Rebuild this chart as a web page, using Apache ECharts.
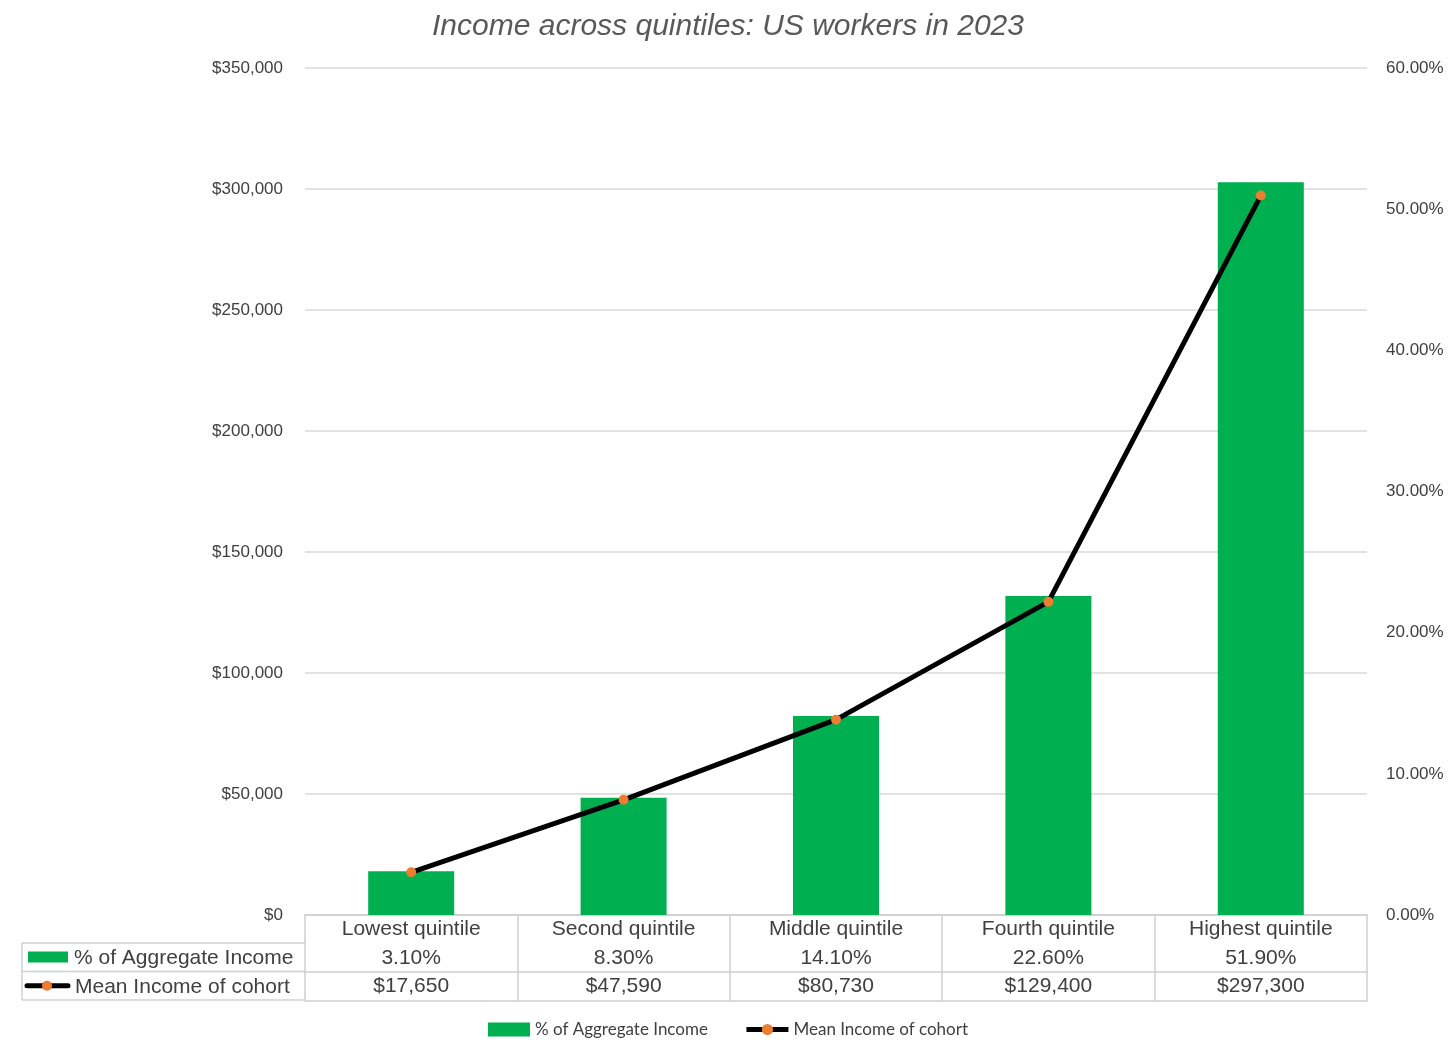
<!DOCTYPE html>
<html>
<head>
<meta charset="utf-8">
<title>Income across quintiles</title>
<script src="https://cdn.jsdelivr.net/npm/echarts@6/dist/echarts.min.js"></script>
<style>
  html, body { margin: 0; padding: 0; background: #fff; }
  #chart { width: 1456px; height: 1056px; }
</style>
</head>
<body>
<div id="chart"></div>
<script>
// data
var categories = ['Lowest quintile', 'Second quintile', 'Middle quintile', 'Fourth quintile', 'Highest quintile'];
var shareNames = '% of Aggregate Income';
var meanName = 'Mean Income of cohort';
var shareValues = [3.1, 8.3, 14.1, 22.6, 51.9];
var meanValues = [17650, 47590, 80730, 129400, 297300];

var FONT = '"Liberation Sans", Arial, sans-serif';
var TXT = '#404040';
var LINE = '#d0d0d0';
var GREEN = '#00B050';
var ORANGE = '#ED7D31';

function dollars(v) { return '$' + v.toLocaleString('en-US'); }
function pct(v) { return v.toFixed(2) + '%'; }

var chart = echarts.init(document.getElementById('chart'));

// left part of the data table (row headers)
var L = 22, R = 305, rowTop = 943, rowH = 28.5;
var graphics = [
  {type: 'line', shape: {x1: L, y1: rowTop, x2: R, y2: rowTop}, style: {stroke: LINE, lineWidth: 1.5}},
  {type: 'line', shape: {x1: L, y1: rowTop + rowH, x2: R, y2: rowTop + rowH}, style: {stroke: LINE, lineWidth: 1.5}},
  {type: 'line', shape: {x1: L, y1: rowTop + 2 * rowH, x2: R, y2: rowTop + 2 * rowH}, style: {stroke: LINE, lineWidth: 1.5}},
  {type: 'line', shape: {x1: L, y1: rowTop, x2: L, y2: rowTop + 2 * rowH}, style: {stroke: LINE, lineWidth: 1.5}},
  {type: 'rect', shape: {x: 28, y: rowTop + 8.5, width: 40, height: 11}, style: {fill: GREEN}},
  {type: 'text', x: 74, y: rowTop + rowH / 2 + 1, style: {text: shareNames, font: '21px ' + FONT, fill: TXT, verticalAlign: 'middle'}},
  {type: 'line', shape: {x1: 27, y1: rowTop + rowH * 1.5, x2: 68, y2: rowTop + rowH * 1.5}, style: {stroke: '#000', lineWidth: 5, lineCap: 'round'}},
  {type: 'circle', shape: {cx: 47, cy: rowTop + rowH * 1.5, r: 5}, style: {fill: ORANGE}},
  {type: 'text', x: 75, y: rowTop + rowH * 1.5 + 1, style: {text: meanName, font: '21px ' + FONT, fill: TXT, verticalAlign: 'middle'}}
];

function tableAxis(data, offset, showLabels) {
  return {
    type: 'category',
    gridIndex: 0,
    position: 'bottom',
    offset: offset,
    data: data,
    axisLine: {show: true, lineStyle: {color: LINE, width: 1.5}},
    axisTick: {show: false},
    axisLabel: {show: showLabels, interval: 0, margin: 4, fontSize: 21, fontFamily: FONT, color: TXT}
  };
}

var option = {
  backgroundColor: '#fff',
  animation: false,
  title: {
    text: 'Income across quintiles: US workers in 2023',
    left: 'center',
    top: 7,
    textStyle: {fontSize: 30, fontStyle: 'italic', fontWeight: 'normal', fontFamily: FONT, color: '#595959'}
  },
  legend: {
    bottom: 13,
    left: 'center',
    itemGap: 36,
    itemWidth: 42,
    itemHeight: 14,
    textStyle: {fontSize: 17, fontFamily: 'Lato, sans-serif', color: TXT},
    data: [
      {name: shareNames, icon: 'rect'},
      {name: meanName, lineStyle: {color: '#000', width: 5}, itemStyle: {color: ORANGE}}
    ]
  },
  grid: {left: 305, right: 89, top: 68, bottom: 141, containLabel: false},
  xAxis: [
    {
      type: 'category',
      data: categories,
      position: 'bottom',
      axisLine: {show: true, lineStyle: {color: LINE, width: 1.5}},
      axisTick: {show: true, length: 85.5, interval: 0, lineStyle: {color: LINE, width: 1.5}},
      axisLabel: {interval: 0, margin: 4, fontSize: 21, fontFamily: FONT, color: TXT}
    },
    tableAxis(shareValues.map(pct), 28.5, true),
    tableAxis(meanValues.map(dollars), 57, true),
    tableAxis(categories, 85.5, false)
  ],
  yAxis: [
    {
      type: 'value',
      min: 0,
      max: 350000,
      interval: 50000,
      position: 'left',
      axisLine: {show: false},
      axisTick: {show: false},
      splitLine: {lineStyle: {color: '#d9d9d9', width: 1.5}},
      axisLabel: {margin: 22, fontSize: 17, fontFamily: FONT, color: TXT, formatter: dollars}
    },
    {
      type: 'value',
      min: 0,
      max: 60,
      interval: 10,
      position: 'right',
      axisLine: {show: false},
      axisTick: {show: false},
      splitLine: {show: false},
      axisLabel: {margin: 19, fontSize: 17, fontFamily: FONT, color: TXT, formatter: pct}
    }
  ],
  series: [
    {
      name: shareNames,
      type: 'bar',
      xAxisIndex: 0,
      yAxisIndex: 1,
      barWidth: '40.5%',
      itemStyle: {color: GREEN},
      data: shareValues
    },
    {
      name: meanName,
      type: 'line',
      xAxisIndex: 0,
      yAxisIndex: 0,
      symbol: 'circle',
      symbolSize: 10,
      itemStyle: {color: ORANGE},
      lineStyle: {color: '#000', width: 5},
      z: 3,
      data: meanValues
    }
  ],
  graphic: graphics
};

chart.setOption(option);
</script>
</body>
</html>
